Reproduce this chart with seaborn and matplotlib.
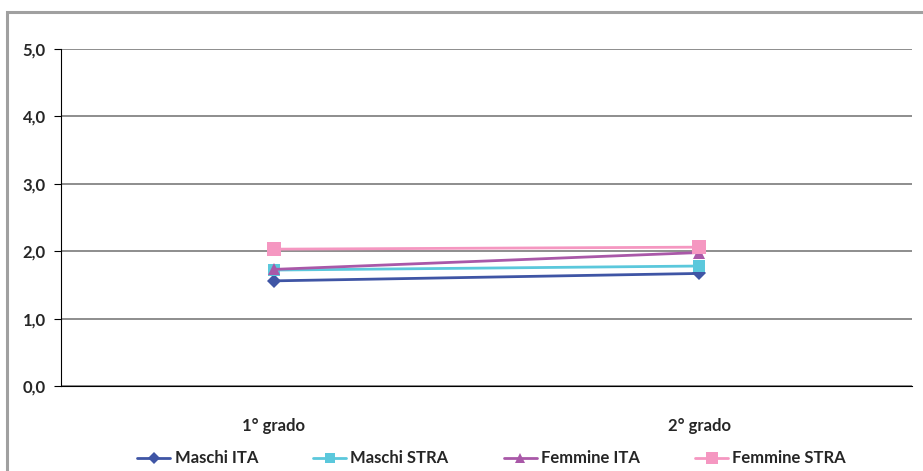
import matplotlib
matplotlib.use("Agg")
import matplotlib.pyplot as plt
import seaborn as sns
import pandas as pd
from matplotlib.patches import Rectangle
from matplotlib.ticker import FixedLocator, FuncFormatter

categories = ["1° grado", "2° grado"]
series_names = ["Maschi ITA", "Maschi STRA", "Femmine ITA", "Femmine STRA"]
maschi_ita = [1.56, 1.67]
maschi_stra = [1.72, 1.78]
femmine_ita = [1.73, 1.98]
femmine_stra = [2.03, 2.06]

colors = {"Maschi ITA": "#3F55A5", "Maschi STRA": "#5BC8DC",
          "Femmine ITA": "#A958A8", "Femmine STRA": "#F597C1"}
markers = {"Maschi ITA": "D", "Maschi STRA": "s",
           "Femmine ITA": "^", "Femmine STRA": "s"}
msizes = {"Maschi ITA": 7, "Maschi STRA": 9, "Femmine ITA": 9, "Femmine STRA": 10.5}

rows = []
for name, vals in zip(series_names, [maschi_ita, maschi_stra, femmine_ita, femmine_stra]):
    for c, v in zip(categories, vals):
        rows.append({"grado": c, "valore": v, "serie": name})
df = pd.DataFrame(rows)

sns.set_style("white")
plt.rcParams["font.family"] = ["Lato", "DejaVu Sans"]
plt.rcParams["font.weight"] = "bold"

FS = 12

fig = plt.figure(figsize=(9.23, 4.71), dpi=100)
ax = fig.add_axes([61/923, 1-386/471, (912-61)/923, (386-49)/471])

for name in series_names:
    sub = df[df["serie"] == name]
    sns.lineplot(data=sub, x="grado", y="valore", ax=ax, color=colors[name],
                 marker=markers[name], markersize=msizes[name], markeredgewidth=0,
                 linewidth=2, label=name, sort=False)

ax.set_xlim(-0.5, 1.5)
ax.set_ylim(0, 5)
ax.set_xlabel("")
ax.set_ylabel("")

ax.yaxis.set_major_locator(FixedLocator([0, 1, 2, 3, 4, 5]))
ax.yaxis.set_major_formatter(FuncFormatter(lambda v, p: f"{v:.1f}".replace(".", ",")))
ax.grid(axis="y", color="#7A7A7A", linewidth=1.2)
ax.grid(axis="x", visible=False)
ax.set_axisbelow(True)

ax.set_xticks([0, 1])
ax.set_xticklabels(categories)
ax.set_xticks([-0.5, 0.5, 1.5], minor=True)
ax.tick_params(axis="x", which="major", length=0, pad=23, labelsize=FS)
ax.tick_params(axis="x", which="minor", length=5, width=0.8, color="black", direction="out")
ax.tick_params(axis="y", length=5, width=0.8, color="black", direction="out", left=True, labelsize=FS, pad=6)
for lab in ax.get_xticklabels() + ax.get_yticklabels():
    lab.set_fontweight("bold")

for s in ["top", "right"]:
    ax.spines[s].set_visible(False)
ax.spines["left"].set_color("black")
ax.spines["left"].set_linewidth(0.8)
ax.spines["bottom"].set_color("black")
ax.spines["bottom"].set_linewidth(0.8)

leg = ax.legend(loc="center", bbox_to_anchor=(0.506, -0.215), ncol=4, frameon=False,
                prop={"weight": "bold", "size": FS}, handlelength=2.0, markerscale=0.85,
                columnspacing=3.3, handletextpad=0.25)

fig.patches.append(Rectangle((7/923, -0.05), 1.2, 1-11.5/471+0.05, transform=fig.transFigure,
                             fill=False, edgecolor="#A0A0A0", linewidth=2.2))

fig.savefig("out.png", dpi=100)
